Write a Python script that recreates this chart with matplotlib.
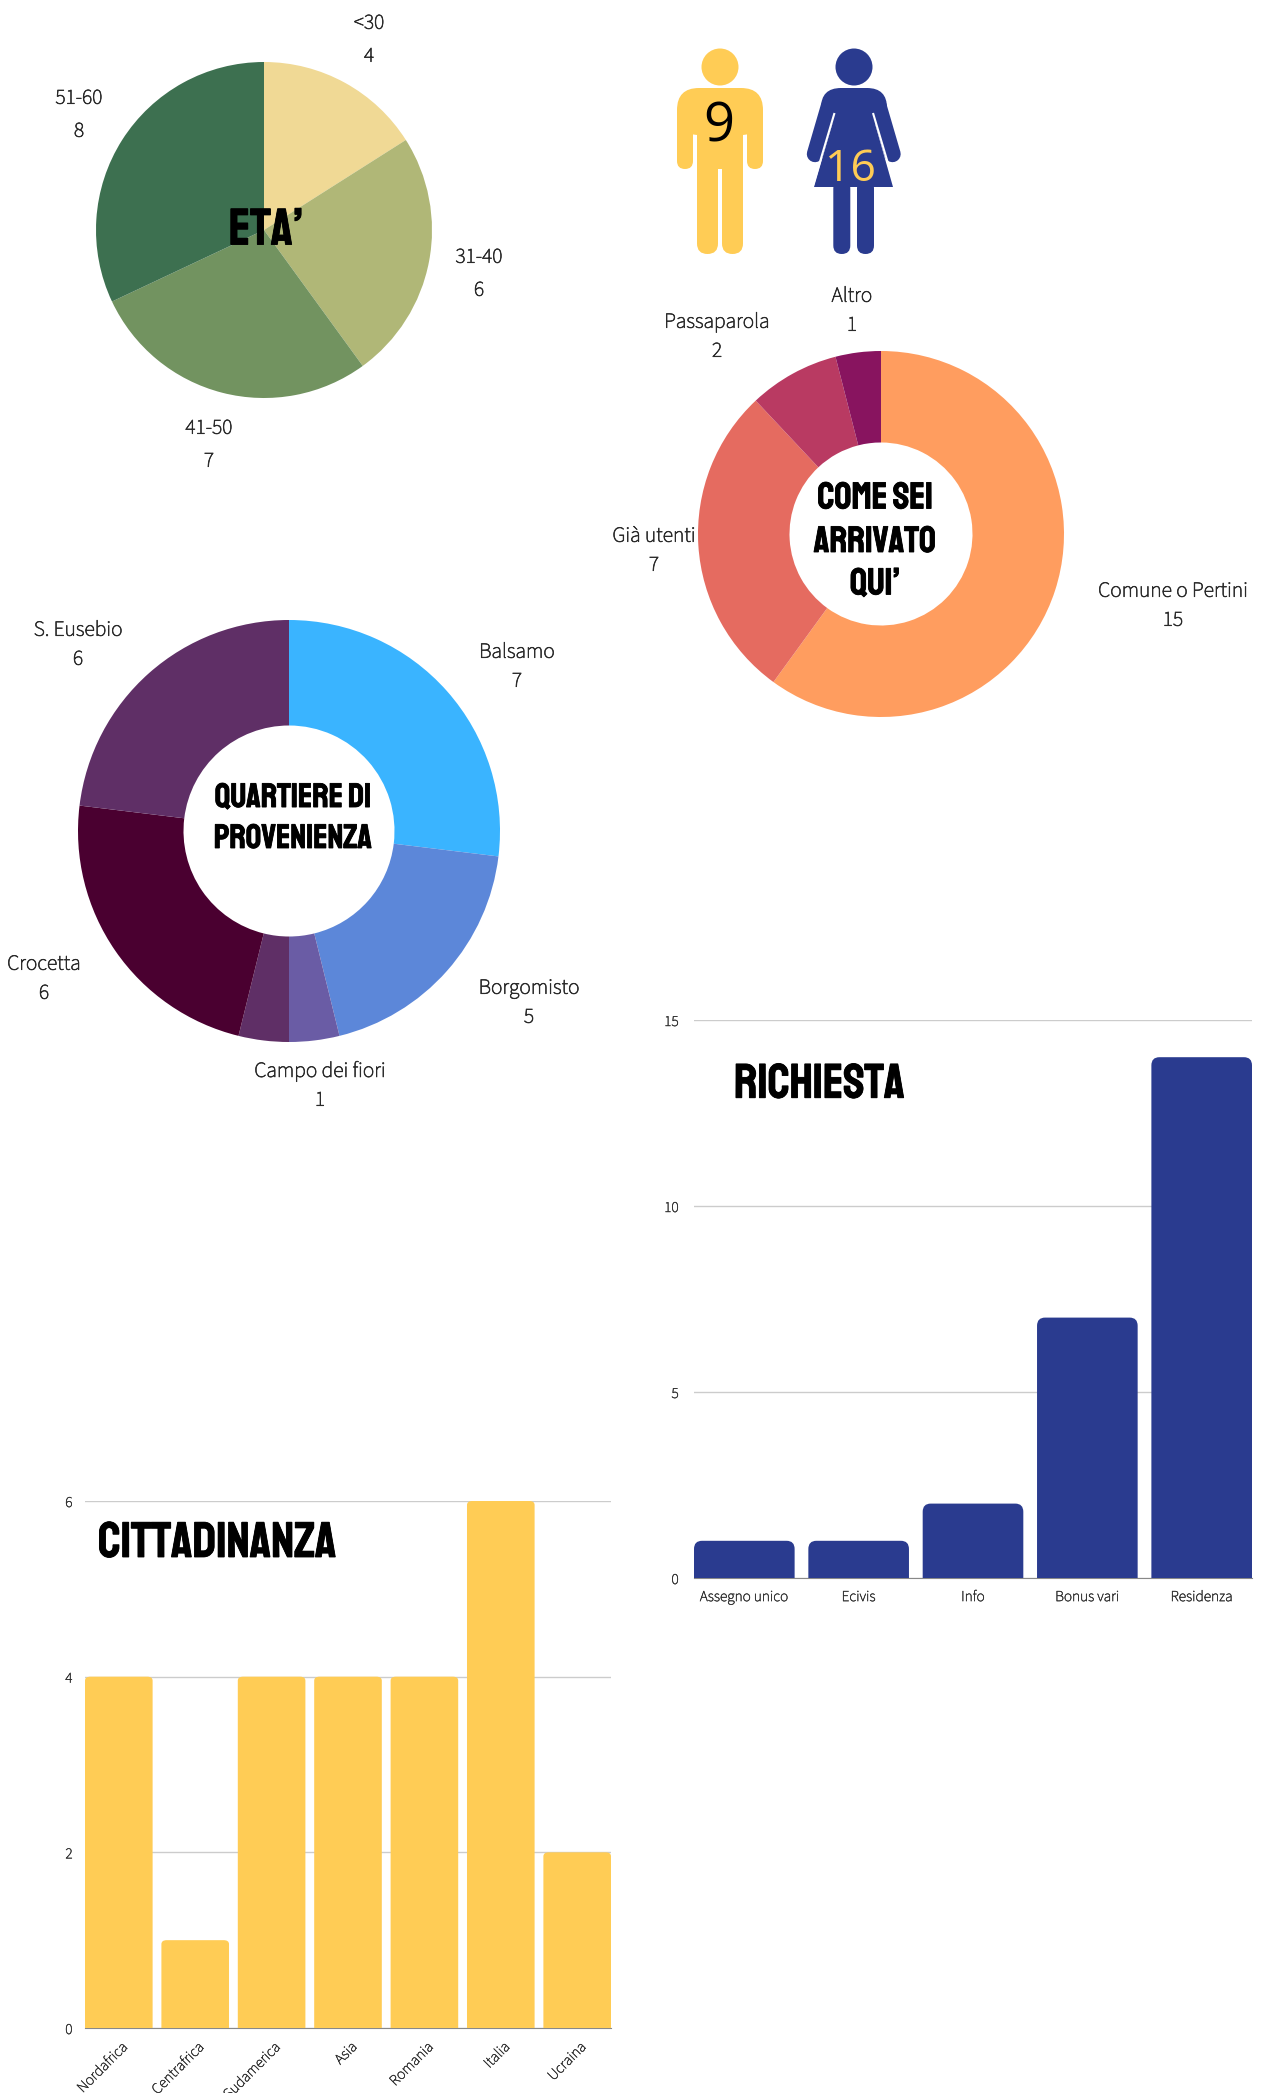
import matplotlib
matplotlib.use('Agg')
import matplotlib.pyplot as plt
import matplotlib.patheffects as pe
from matplotlib import font_manager as fm
from matplotlib.path import Path
from matplotlib.patches import PathPatch, Circle, Polygon, FancyBboxPatch
from matplotlib.transforms import ScaledTranslation

W, H = 1261, 2093

eta_labels = ['<30', '31-40', '41-50', '51-60']
eta_values = [4, 6, 7, 8]
eta_colors = ['#F0D995', '#B0B777', '#729360', '#3D7050']

arrivo_labels = ['Comune o Pertini', 'Già utenti', 'Passaparola', 'Altro']
arrivo_values = [15, 7, 2, 1]
arrivo_colors = ['#FF9D5F', '#E56B60', '#B93A62', '#88145F']

quartiere_labels = ['Balsamo', 'Borgomisto', 'Campo dei fiori', 'Crocetta', 'S. Eusebio']
quartiere_label_values = [7, 5, 1, 6, 6]
quartiere_values = [7, 5, 1, 1, 6, 6]
quartiere_colors = ['#3AB4FF', '#5C87D9', '#6A5CA5', '#5F2F66', '#4A0030', '#5F2F66']

richiesta_cat = ['Assegno unico', 'Ecivis', 'Info', 'Bonus vari', 'Residenza']
richiesta_val = [1, 1, 2, 7, 14]

citt_cat = ['Nordafrica', 'Centrafrica', 'Sudamerica', 'Asia', 'Romania', 'Italia', 'Ucraina']
citt_val = [4, 1, 4, 4, 4, 6, 2]

uomini = 9
donne = 16

BLUE = '#2A3B8F'
YELLOW = '#FFCC55'
TEXT = '#2A2A2A'
installed = set(f.name for f in fm.fontManager.ttflist)


def fonts(*names):
    return [n for n in names if n in installed] or ['DejaVu Sans']


LABEL_FONT = fonts('Source Sans 3', 'Source Sans Pro', 'Lato', 'Open Sans', 'DejaVu Sans')
TITLE_FONT = fonts('Staatliches', 'Bebas Neue', 'Oswald', 'Liberation Sans Narrow', 'Liberation Sans')
DIGIT_FONT = fonts('Open Sans', 'DejaVu Sans')
# the label font only comes in a very light cut here, so thicken it a little
THICK = [pe.withStroke(linewidth=0.45, foreground=TEXT)]
THIN = [pe.withStroke(linewidth=0.3, foreground=TEXT)]

fig = plt.figure(figsize=(W / 100, H / 100), dpi=100)


def px_axes(x0, y0, x1, y1):
    # y measured from the top of the image
    return fig.add_axes([x0 / W, 1 - y1 / H, (x1 - x0) / W, (y1 - y0) / H])


def pie_chart(cx, cy, r, values, colors, hole=0.0):
    ax = px_axes(cx - r, cy - r, cx + r, cy + r)
    props = dict(linewidth=0)
    if hole:
        props['width'] = 1 - hole
    ax.pie(values, colors=colors, startangle=90, counterclock=False, radius=1,
           wedgeprops=props)
    ax.set_xlim(-1, 1)
    ax.set_ylim(-1, 1)
    return ax


def rounded_bars(ax, bars, rx, ry, color):
    for b in bars:
        x0, w, h = b.get_x(), b.get_width(), b.get_height()
        x1 = x0 + w
        verts = [(x0, 0), (x0, h - ry), (x0, h), (x0 + rx, h), (x1 - rx, h), (x1, h), (x1, h - ry), (x1, 0), (x0, 0)]
        codes = [Path.MOVETO, Path.LINETO, Path.CURVE3, Path.CURVE3, Path.LINETO,
                 Path.CURVE3, Path.CURVE3, Path.LINETO, Path.CLOSEPOLY]
        b.set_visible(False)
        ax.add_patch(PathPatch(Path(verts, codes), fc=color, ec='none', zorder=3))


def style_bar_axis(ax):
    for lab in ax.get_yticklabels():
        lab.set_family(LABEL_FONT)
    for lab in ax.get_xticklabels() + ax.get_yticklabels():
        lab.set_path_effects(THIN)
    ax.grid(axis='y', color='#CCCCCC', lw=1)
    ax.set_axisbelow(True)
    for s in ax.spines.values():
        s.set_visible(False)
    ax.spines['bottom'].set_visible(True)
    ax.spines['bottom'].set_color('#888888')


# overlay in image pixels, for labels and the two figures
ov = fig.add_axes([0, 0, 1, 1], zorder=10)
ov.set_xlim(0, W)
ov.set_ylim(H, 0)
ov.axis('off')


def label(x, y, name, value, step=29, size=15.5):
    ov.text(x, y, name, ha='center', va='center', fontsize=size, family=LABEL_FONT, color=TEXT, path_effects=THICK)
    ov.text(x, y + step, str(value), ha='center', va='center', fontsize=size, family=LABEL_FONT, color=TEXT,
            path_effects=THICK)


def title(x, y, s, size=25, ha='center'):
    ov.text(x, y, s, ha=ha, va='center', fontsize=size, family=TITLE_FONT, color='black',
            path_effects=[pe.withStroke(linewidth=0.6, foreground='black')])


# pies
pie_chart(264, 230, 168, eta_values, eta_colors)
pie_chart(881, 534, 183, arrivo_values, arrivo_colors, hole=0.5)
pie_chart(289, 831, 211, quartiere_values, quartiere_colors, hole=0.5)

for (x, y), n, v in zip([(369, 23), (479, 257), (209, 428), (79, 98)], eta_labels, eta_values):
    label(x, y, n, v, step=33)
for (x, y), n, v in zip([(1173, 591), (654, 536), (717, 322), (852, 296)], arrivo_labels, arrivo_values):
    label(x, y, n, v)
for (x, y), n, v in zip([(517, 652), (529, 988), (320, 1071), (44, 964), (78, 630)],
                        quartiere_labels, quartiere_label_values):
    label(x, y, n, v)

title(266, 227, 'Eta’', 37)
title(875, 495, 'COME SEI', 27)
title(875, 539, 'ARRIVATO', 26.5)
title(875, 582, 'QUI’', 27)
title(293, 796, 'QUARTIERE DI', 24.5)
title(293, 836, 'PROVENIENZA', 24.5)

# richiesta bars
ax = px_axes(694, 1020, 1252, 1578)
pos = range(len(richiesta_cat))
bars = ax.bar(pos, richiesta_val, width=0.88, color=BLUE)
ax.set_xlim(-0.44, 4.44)
ax.set_ylim(0, 15)
rounded_bars(ax, bars, 0.07, 0.22, BLUE)
ax.set_yticks([0, 5, 10, 15])
ax.set_xticks(list(pos))
ax.set_xticklabels(richiesta_cat, fontsize=11, family=LABEL_FONT, color='#333333')
ax.tick_params(length=0, labelsize=11, colors='#333333', pad=8)
ax.tick_params(axis='y', pad=11)
style_bar_axis(ax)
title(734, 1081, 'RICHIESTA', 35, ha='left')

# cittadinanza bars
ax = px_axes(85, 1501, 611, 2028)
pos = range(len(citt_cat))
bars = ax.bar(pos, citt_val, width=0.885, color=YELLOW)
ax.set_xlim(-0.4425, 6.4425)
ax.set_ylim(0, 6)
rounded_bars(ax, bars, 0.07, 0.045, YELLOW)
ax.set_yticks([0, 2, 4, 6])
ax.set_xticks(list(pos))
ax.set_xticklabels(citt_cat, fontsize=12, family=LABEL_FONT, color='#333333',
                   rotation=45, ha='right', va='center', rotation_mode='anchor')
ax.tick_params(length=0, labelsize=11, colors='#333333')
ax.tick_params(axis='x', pad=12)
ax.tick_params(axis='y', pad=9)
shift = ScaledTranslation(5 / 72, 0, fig.dpi_scale_trans)
for lab in ax.get_xticklabels():
    lab.set_transform(lab.get_transform() + shift)
style_bar_axis(ax)
title(98, 1540, 'CITTADINANZA', 36, ha='left')


# the two figures, drawn on the overlay
def box(x0, y0, x1, y1, r, color):
    ov.add_patch(FancyBboxPatch((x0 + r, y0 + r), x1 - x0 - 2 * r, y1 - y0 - 2 * r,
                                boxstyle='round,pad=%f,rounding_size=%f' % (r, r), fc=color, ec='none'))


# man
ov.add_patch(Circle((720, 67), 18.5, fc=YELLOW, ec='none'))
box(677, 88, 763, 135, 22, YELLOW)
box(677, 105, 693, 169, 8, YELLOW)
box(747, 105, 763, 169, 8, YELLOW)
ov.add_patch(Polygon([(693, 100), (747, 100), (747, 116), (693, 116)], fc=YELLOW, ec='none'))
box(697, 110, 743, 175, 0.1, YELLOW)
box(697, 150, 718, 254, 10.5, YELLOW)
box(722, 150, 743, 254, 10.5, YELLOW)
ov.add_patch(Polygon([(718, 169), (722, 169), (722, 200), (718, 200)], fc='white', ec='none'))
ov.text(719, 127, str(uomini), ha='center', va='center', fontsize=39, family=DIGIT_FONT, color='black')

# woman
ov.add_patch(Circle((854, 67), 18.5, fc=BLUE, ec='none'))
ov.plot([829, 815], [106, 154], color=BLUE, lw=11.8, solid_capstyle='round')
ov.plot([878.5, 892.5], [106, 154], color=BLUE, lw=11.8, solid_capstyle='round')
ov.plot([834.5, 812.5], [113, 187], color='white', lw=1.5, solid_capstyle='butt')
ov.plot([873, 895], [113, 187], color='white', lw=1.5, solid_capstyle='butt')
ov.add_patch(Polygon([(814, 187), (893, 187), (872, 113), (868, 88), (840, 88), (835.5, 113)], fc=BLUE, ec='none'))
box(821, 88, 887, 125, 20, BLUE)
box(833.3, 180, 850.3, 254, 8.5, BLUE)
box(857, 180, 874, 254, 8.5, BLUE)
ov.text(850, 170, str(donne), ha='center', va='center', fontsize=32, family=DIGIT_FONT, color=YELLOW)

fig.savefig('out.png', dpi=100, facecolor='white')
